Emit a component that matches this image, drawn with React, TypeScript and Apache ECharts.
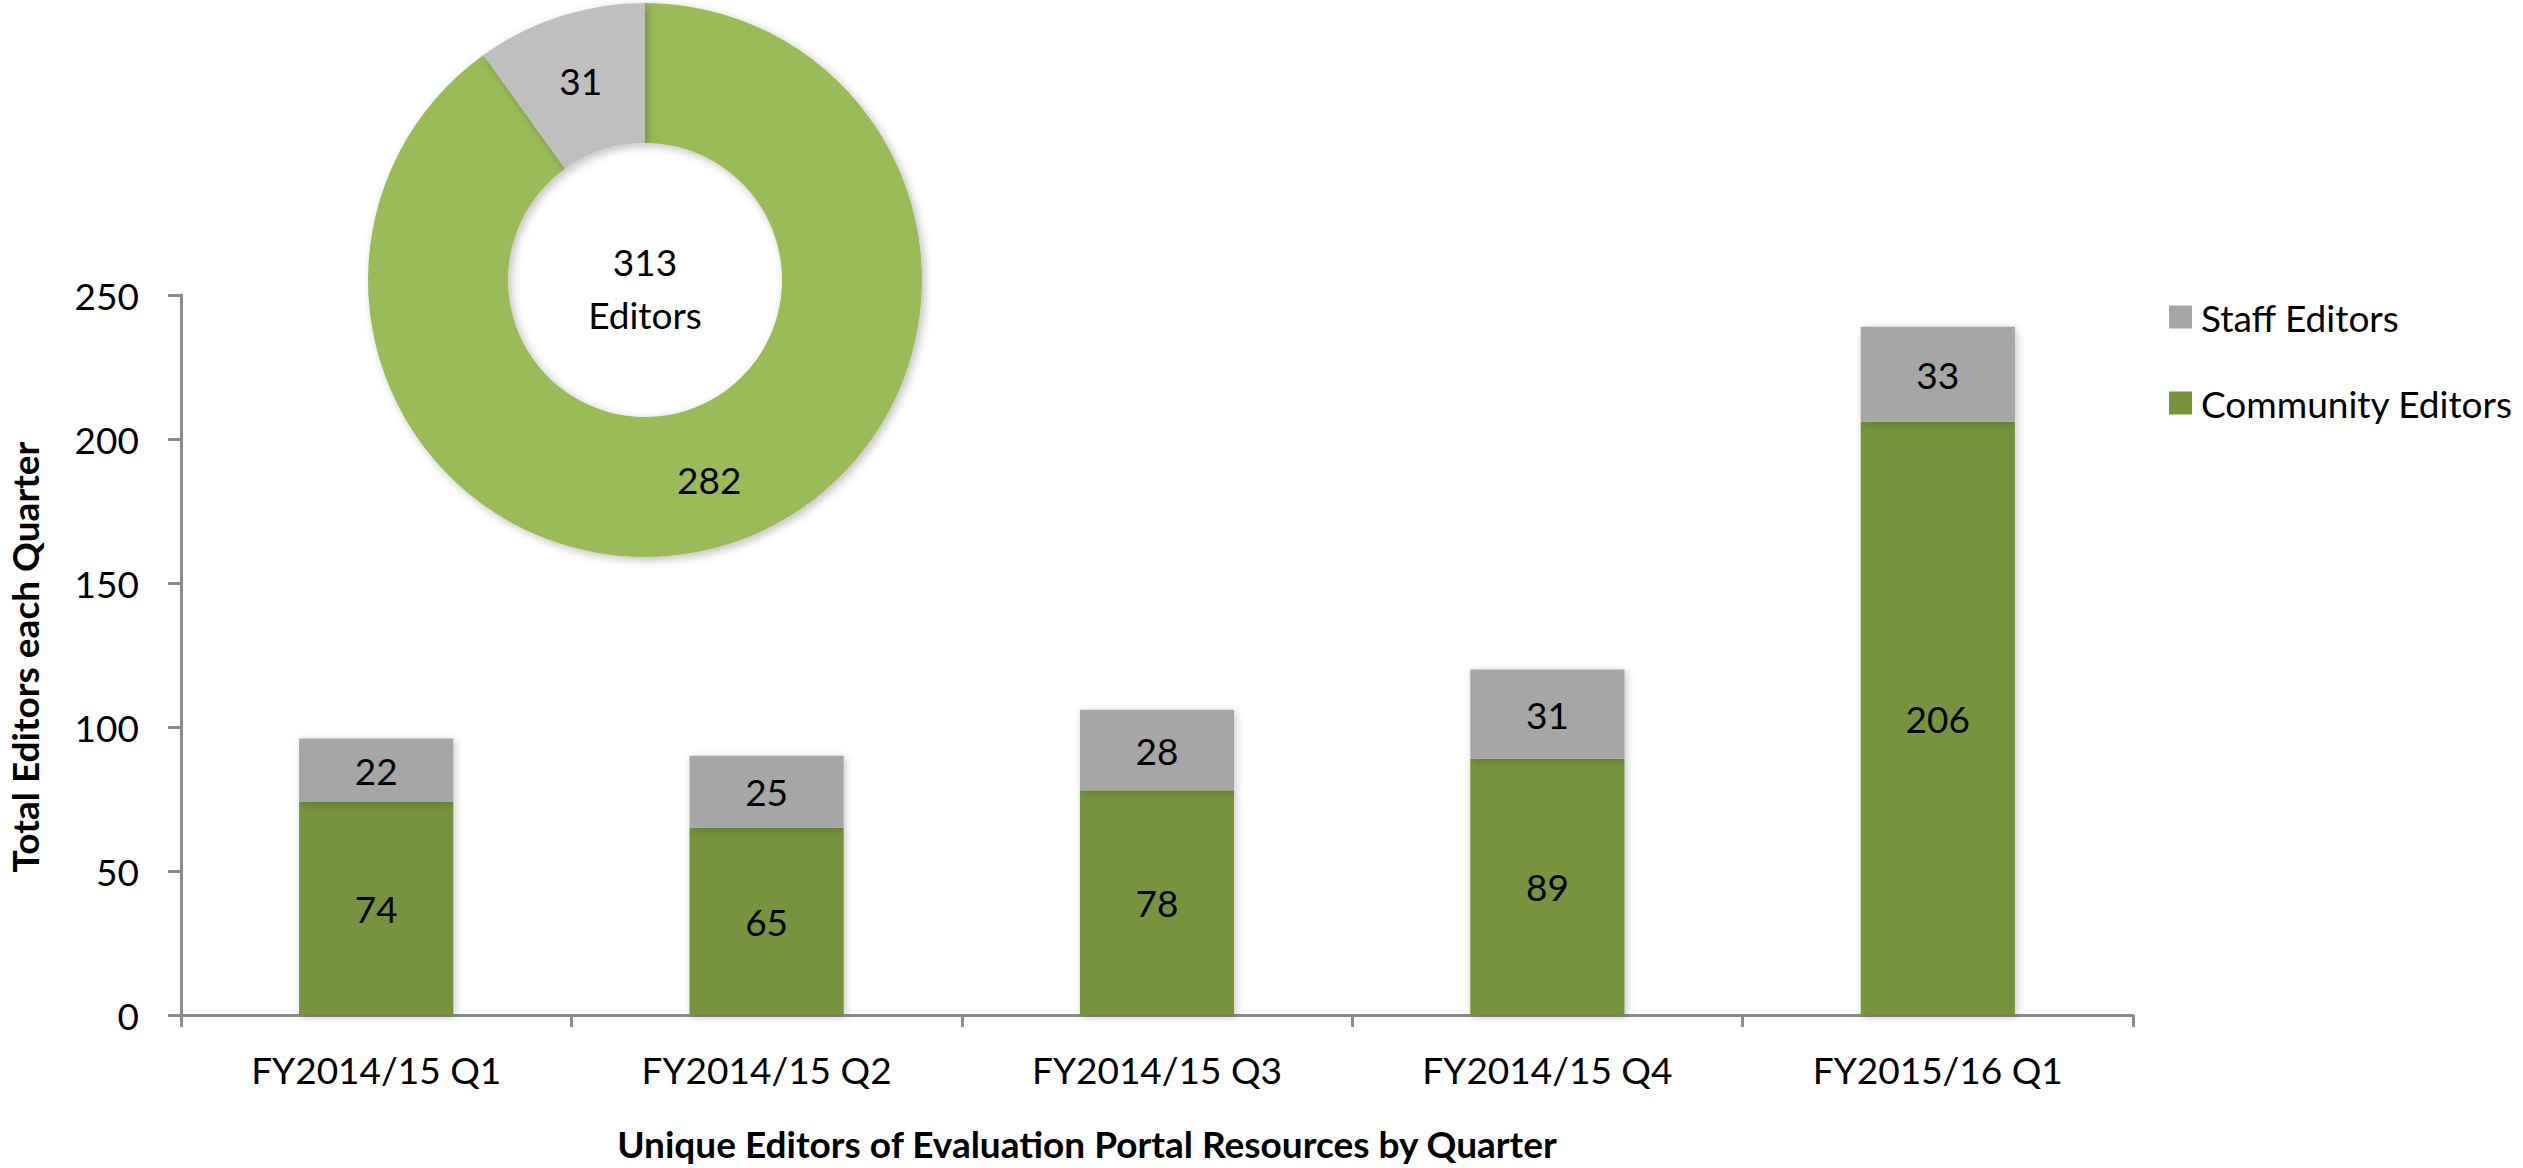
import React, { useEffect, useRef } from "react";
import * as echarts from "echarts";

const categories = ["FY2014/15 Q1", "FY2014/15 Q2", "FY2014/15 Q3", "FY2014/15 Q4", "FY2015/16 Q1"];
const communityEditors = [74, 65, 78, 89, 206];
const staffEditors = [22, 25, 28, 31, 33];
const uniqueNames = ["Community Editors", "Staff Editors"];
const uniqueValues = [282, 31];
const yMin = 0;
const yMax = 250;
const yInterval = 50;

const FONT = "Lato, 'Noto Sans', sans-serif";

export default function App() {
  const ref = useRef<HTMLDivElement>(null);
  useEffect(() => {
    if (!ref.current) return;
    const chart = echarts.init(ref.current, null, { renderer: "svg" });
    const total = uniqueValues.reduce((a, b) => a + b, 0);
    const labelStyle = { color: "#000", fontFamily: FONT, fontSize: 37 };
    chart.setOption({
      animation: false,
      backgroundColor: "#ffffff",
      textStyle: { fontFamily: FONT },
      grid: { left: 181, right: 390, top: 295, bottom: 153, containLabel: false },
      legend: {
        orient: "vertical",
        left: 2164,
        top: 292,
        itemWidth: 23,
        itemHeight: 23,
        itemGap: 46,
        icon: "rect",
        data: ["Staff Editors", "Community Editors"],
        textStyle: { ...labelStyle, fontSize: 37, lineHeight: 40, padding: [0, 0, 0, 4] },
      },
      xAxis: {
        type: "category",
        data: categories,
        axisLine: { show: true, lineStyle: { color: "#8c8c8c", width: 3 } },
        axisTick: { show: true, alignWithLabel: false, length: 12, lineStyle: { color: "#8c8c8c", width: 3 } },
        axisLabel: { ...labelStyle, margin: 36 },
        splitLine: { show: false },
      },
      yAxis: {
        type: "value",
        min: yMin,
        max: yMax,
        interval: yInterval,
        axisLine: { show: true, lineStyle: { color: "#8c8c8c", width: 3 } },
        axisTick: { show: true, length: 13, lineStyle: { color: "#8c8c8c", width: 3 } },
        axisLabel: { ...labelStyle, margin: 42 },
        splitLine: { show: false },
      },
      series: [
        {
          name: "Community Editors",
          type: "bar",
          stack: "total",
          data: communityEditors,
          barWidth: "39.5%",
          itemStyle: {
            color: "#77933C",
            shadowBlur: 8,
            shadowColor: "rgba(0,0,0,0.22)",
            shadowOffsetX: 2,
            shadowOffsetY: 2,
          },
          label: { show: true, position: "inside", ...labelStyle },
        },
        {
          name: "Staff Editors",
          type: "bar",
          stack: "total",
          data: staffEditors,
          barWidth: "39.5%",
          itemStyle: {
            color: "#A6A6A6",
            shadowBlur: 8,
            shadowColor: "rgba(0,0,0,0.22)",
            shadowOffsetX: 2,
            shadowOffsetY: 2,
          },
          label: { show: true, position: "inside", ...labelStyle },
        },
        {
          name: "Unique Editors",
          type: "pie",
          center: [645, 280],
          radius: [137, 277],
          startAngle: 90,
          clockwise: true,
          silent: true,
          z: 5,
          data: uniqueNames.map((n, i) => ({
            name: n,
            value: uniqueValues[i],
            itemStyle: { color: i === 0 ? "#9BBB59" : "#BFBFBF" },
          })),
          itemStyle: {
            borderWidth: 0,
            shadowBlur: 10,
            shadowColor: "rgba(0,0,0,0.25)",
            shadowOffsetX: 3,
            shadowOffsetY: 3,
          },
          label: { show: true, position: "inside", formatter: "{c}", ...labelStyle },
          labelLine: { show: false },
          emphasis: { disabled: true },
        },
      ],
      graphic: [
        {
          type: "text",
          x: 645,
          y: 288,
          z: 10,
          style: {
            text: `${total}\nEditors`,
            fill: "#000",
            font: `37px ${FONT}`,
            lineHeight: 53,
            align: "center",
            verticalAlign: "middle",
            textAlign: "center",
            textVerticalAlign: "middle",
          },
        },
        {
          type: "text",
          x: 24,
          y: 657,
          rotation: Math.PI / 2,
          style: {
            text: "Total Editors each Quarter",
            fill: "#000",
            font: `bold 37px ${FONT}`,
            align: "center",
            verticalAlign: "middle",
            textAlign: "center",
            textVerticalAlign: "middle",
          },
        },
        {
          type: "text",
          x: 1087,
          y: 1143,
          style: {
            text: "Unique Editors of Evaluation Portal Resources by Quarter",
            fill: "#000",
            font: `bold 37px ${FONT}`,
            align: "center",
            verticalAlign: "middle",
            textAlign: "center",
            textVerticalAlign: "middle",
          },
        },
      ],
    });
    return () => chart.dispose();
  }, []);
  return (
    <div
      ref={ref}
      style={{ position: "fixed", left: 0, top: 0, width: 2523, height: 1168, background: "#fff" }}
    />
  );
}
